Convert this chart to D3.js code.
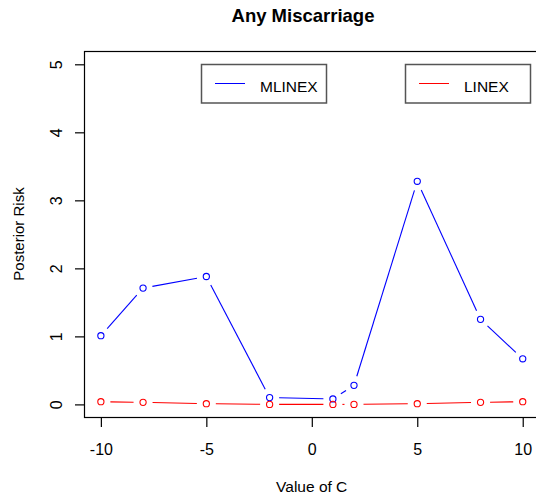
<!DOCTYPE html>
<html>
<head>
<meta charset="utf-8">
<script src="https://cdn.jsdelivr.net/npm/d3@7"></script>
<style>
  html, body { margin: 0; padding: 0; background: #fff; }
  svg { display: block; font-family: "Liberation Sans", Arial, sans-serif; }
</style>
</head>
<body>
<svg id="chart" width="536" height="499"></svg>
<script>
// ---- data ----
const cValues = [-10, -8, -5, -2, 1, 2, 5, 8, 10];
const mlinexRisk = [1.01, 1.71, 1.88, 0.10, 0.08, 0.28, 3.28, 1.25, 0.67];
const linexRisk  = [0.04, 0.03, 0.01, 0.00, 0.00, 0.00, 0.01, 0.03, 0.04];
const xTicks = [-10, -5, 0, 5, 10];
const yTicks = [0, 1, 2, 3, 4, 5];
const seriesNames = ["MLINEX", "LINEX"];
const seriesColors = ["blue", "red"];

const svg = d3.select("#chart");

// plot region (R-style 4% extended limits)
const x = d3.scaleLinear().domain([-10.8, 10.8]).range([84, 539.6]);
const y = d3.scaleLinear().domain([-0.2, 5.2]).range([418, 50.7]);

// title
svg.append("text")
  .attr("x", 303).attr("y", 22)
  .attr("text-anchor", "middle")
  .attr("font-size", 18.5).attr("font-weight", "bold")
  .text("Any Miscarriage");

// box
svg.append("rect")
  .attr("x", 84.5).attr("y", 51.5)
  .attr("width", 470).attr("height", 366)
  .attr("fill", "none").attr("stroke", "#000").attr("stroke-width", 1.2);

// x axis
const xAxis = svg.append("g")
  .attr("transform", "translate(0,418)")
  .call(d3.axisBottom(x).tickValues(xTicks).tickSize(9).tickPadding(0).tickFormat(d3.format("d")));
xAxis.select(".domain").remove();
xAxis.selectAll(".tick line").attr("stroke", "#000").attr("stroke-width", 1.2);
xAxis.selectAll(".tick text")
  .attr("y", 37).attr("dy", null)
  .attr("font-size", 16).attr("font-family", "Liberation Sans, Arial, sans-serif")
  .attr("fill", "#000")
  .text(d => d < 0 ? "-" + Math.abs(d) : d);

// y axis
const yAxis = svg.append("g")
  .attr("transform", "translate(84,0)")
  .call(d3.axisLeft(y).tickValues(yTicks).tickSize(9).tickFormat(d3.format("d")));
yAxis.select(".domain").remove();
yAxis.selectAll(".tick line").attr("stroke", "#000").attr("stroke-width", 1.2);
yAxis.selectAll(".tick text")
  .attr("x", null).attr("dy", null)
  .attr("text-anchor", "middle")
  .attr("transform", "translate(-22,0) rotate(-90)")
  .attr("font-size", 16).attr("font-family", "Liberation Sans, Arial, sans-serif")
  .attr("fill", "#000");

// axis labels
svg.append("text")
  .attr("x", 311.7).attr("y", 492)
  .attr("text-anchor", "middle")
  .attr("font-size", 15.5)
  .text("Value of C");
svg.append("text")
  .attr("transform", "translate(24,234) rotate(-90)")
  .attr("text-anchor", "middle")
  .attr("font-size", 15)
  .text("Posterior Risk");

// series (type = "b": points with gapped line segments)
const gap = 9.5;
function drawSeries(values, color) {
  const pts = cValues.map((c, i) => [x(c), y(values[i])]);
  const g = svg.append("g");
  for (let i = 0; i < pts.length - 1; i++) {
    const [x0, y0] = pts[i], [x1, y1] = pts[i + 1];
    const dx = x1 - x0, dy = y1 - y0;
    const len = Math.hypot(dx, dy);
    if (len <= 2 * gap) continue;
    const ux = dx / len, uy = dy / len;
    g.append("line")
      .attr("x1", x0 + ux * gap).attr("y1", y0 + uy * gap)
      .attr("x2", x1 - ux * gap).attr("y2", y1 - uy * gap)
      .attr("stroke", color).attr("stroke-width", 1.1);
  }
  g.selectAll("circle").data(pts).join("circle")
    .attr("cx", d => d[0]).attr("cy", d => d[1]).attr("r", 3.1)
    .attr("fill", "none").attr("stroke", color).attr("stroke-width", 1.1);
}
drawSeries(mlinexRisk, seriesColors[0]);
drawSeries(linexRisk, seriesColors[1]);

// legends (two separate boxes)
const legendBoxes = [
  { x0: 201, name: seriesNames[0], color: seriesColors[0] },
  { x0: 405, name: seriesNames[1], color: seriesColors[1] }
];
legendBoxes.forEach(l => {
  const g = svg.append("g").attr("transform", `translate(${l.x0},64)`);
  g.append("rect")
    .attr("x", 0.5).attr("y", 0.5).attr("width", 125).attr("height", 38.5)
    .attr("fill", "#fff").attr("stroke", "#555").attr("stroke-width", 1.5);
  g.append("line")
    .attr("x1", 14).attr("x2", 44).attr("y1", 19.5).attr("y2", 19.5)
    .attr("stroke", l.color).attr("stroke-width", 1);
  g.append("text")
    .attr("x", 59).attr("y", 27.5)
    .attr("font-size", 15.5)
    .text(l.name);
});
</script>
</body>
</html>
